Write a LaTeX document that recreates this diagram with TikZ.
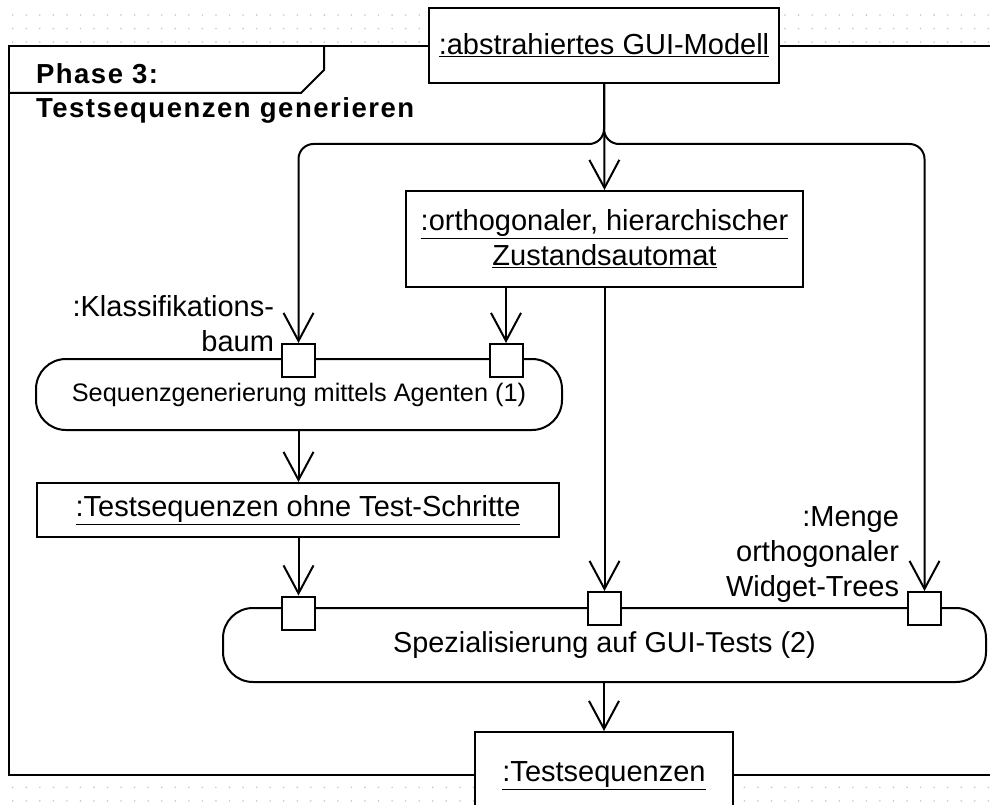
\documentclass[tikz,border=0pt]{standalone}
\usepackage{fontspec}
\setmainfont{Liberation Sans}
\newfontfamily\titlefont[LetterSpace=5.5]{Liberation Sans}
\usetikzlibrary{arrows.meta}
\begin{document}
\begin{tikzpicture}[x=1pt,y=-1pt,
  line width=2pt,
  objbox/.style={draw, fill=white, inner sep=0pt, align=center,
    font=\fontsize{29}{35}\selectfont},
  actbox/.style={draw, fill=white, rounded corners=30pt, inner sep=0pt},
  pinbox/.style={draw, fill=white, inner sep=0pt,
    minimum width=33pt, minimum height=33pt},
  lbl/.style={inner sep=0pt, align=right, font=\fontsize{29}{35}\selectfont},
  flow/.style={-{Straight Barb[length=28pt,width=30pt]}},
  gridpt/.style={fill=black!22},
]
\useasboundingbox (0,0) rectangle (990,805);
\begin{scope}
\clip (0,0) rectangle (990,805);

% background dot grid
\foreach \i in {0,...,73} {
  \foreach \j in {0,1,2,57,58} {
    \fill[gridpt] (12.7+13.55*\i, 15+13.55*\j) circle (0.9pt);
  }
}

% activity frame with name tab
\fill[white] (9,46) rectangle (1000,775);
\draw (1000,46) -- (9,46) -- (9,775) -- (1000,775);
\draw (324,46) -- (324,70) -- (301,93) -- (9,93);
\node[anchor=north west, inner sep=0pt, align=left,
  font=\titlefont\bfseries\fontsize{27.5}{34}\selectfont] (title) at (35,63)
  {Phase 3:\\Testsequenzen generieren};

% object nodes
\node[objbox, minimum width=350pt, minimum height=75pt] (gui) at (604,45.5)
  {\underline{:abstrahiertes GUI-Modell}};
\node[objbox, minimum width=397pt, minimum height=96pt] (ortho) at (604.5,239)
  {\underline{:orthogonaler, hierarchischer}\\\underline{Zustandsautomat}};
\node[objbox, minimum width=522pt, minimum height=54pt] (tso) at (298,510)
  {\underline{:Testsequenzen ohne Test-Schritte}};
\node[objbox, minimum width=258pt, minimum height=88pt] (ts) at (604,776)
  {\underline{:Testsequenzen}};

% actions
\node[actbox, minimum width=526pt, minimum height=71pt,
  font=\fontsize{25.3}{30}\selectfont] (act1) at (299,394.5)
  {\raisebox{-2pt}{Sequenzgenerierung mittels Agenten (1)}};
\node[actbox, minimum width=763pt, minimum height=74pt,
  font=\fontsize{28.8}{34}\selectfont] (act2) at (604.5,645)
  {Spezialisierung auf GUI-Tests (2)};

% input pins
\node[pinbox] (kpin) at (298.5,360.5) {};
\node[pinbox] (apin) at (506,360.5) {};
\node[pinbox] (lpin) at (298.5,613) {};
\node[pinbox] (cpin) at (604.5,608.5) {};
\node[pinbox] (wpin) at (924.5,608.5) {};

% pin labels
\node[lbl, anchor=north east] (klbl) at (275,294)
  {:Klassifikations-\\baum};
\node[lbl, anchor=north east] (wlbl) at (900,506)
  {:Menge\\orthogonaler\\Widget-Trees};

% object flows
\coordinate (split) at (604,144);
\draw[flow, rounded corners=15pt] (gui.south) -- (split)
  -- (split -| kpin.north) -- (kpin.north);
\draw[flow, rounded corners=15pt] (gui.south) -- (split)
  -- (split -| wpin.north) -- (wpin.north);
\draw[flow] (gui.south) -- (ortho.north);
\draw[flow] (apin.north |- ortho.south) -- (apin.north);
\draw[flow] (cpin.north |- ortho.south) -- (cpin.north);
\draw[flow] (kpin.north |- act1.south) -- (kpin.north |- tso.north);
\draw[flow] (lpin.north |- tso.south) -- (lpin.north);
\draw[flow] (act2.south -| ts.north) -- (ts.north);
\end{scope}
\end{tikzpicture}
\end{document}
